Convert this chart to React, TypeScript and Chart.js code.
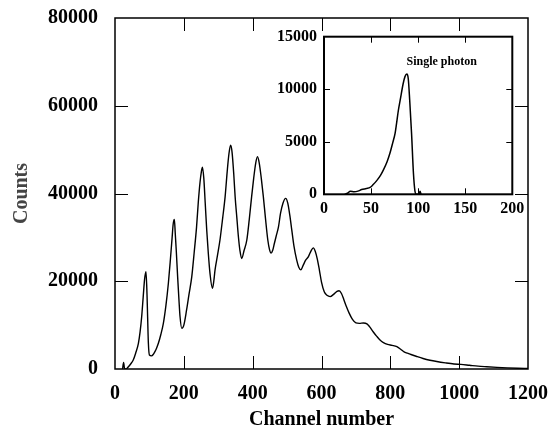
import React, { useEffect, useRef } from "react";
import { Chart, registerables } from "chart.js";

Chart.register(...registerables);

// Main spectrum (channel number, counts)
const mainChannels = [
  22, 25, 28, 32, 39, 46, 53, 60, 68, 73, 77.5, 82, 86, 90, 93, 97, 100, 106, 111,
  116, 121, 126, 133, 140.5, 148, 155, 161, 166, 169, 172.5, 175, 178, 182, 186, 189, 194,
  200, 208, 215, 223, 230, 237, 242, 247, 251, 254, 258, 262, 266.5, 271, 276, 283,
  287, 290.7, 298, 305, 313, 320, 326, 331, 336, 340, 345, 349, 354, 358.5, 363, 368,
  375, 383, 390, 397, 403, 409, 414, 419, 425, 431, 437, 444, 449, 453.5,
  458, 463, 469, 475, 481, 488, 496, 502, 508, 513.6, 520, 528, 534, 540,
  546, 554, 562, 570, 576, 582, 588, 594, 600, 608, 616, 625, 635, 645, 651, 658,
  665, 672, 680, 690, 700, 710, 722, 732, 740, 750, 760, 770, 780, 792, 805,
  819, 830, 840, 850, 860, 875, 895, 915, 935, 960, 985, 1005, 1030, 1055,
  1080, 1110, 1140, 1170, 1200,
];
const mainCounts = [
  0, 1500, 0, 0, 530, 1200, 2050, 3600, 5850, 8500, 11900, 16500, 20500, 22200, 17000, 5850, 3200, 3000, 3300,
  3950, 4800, 5850, 7800, 10400, 14500, 19500, 25000, 30000, 33000, 34100, 31000, 27000, 21000, 15500, 11900, 9270,
  10000, 13450, 17000, 21000, 26500, 32400, 38000, 42500, 45000, 46000, 43500, 38000, 31700, 26500, 21800, 18400,
  20000, 22600, 26000, 29400, 34500, 39300, 45000, 49000, 51000, 49500, 44500, 39300, 34500, 30200, 27000, 25200,
  27000, 29400, 34000, 39300, 43500, 47000, 48400, 47000, 43500, 39300, 34500, 29400, 27200, 26400,
  27000, 28600, 30500, 32400, 35500, 37800, 38900, 37800, 35000, 31700, 28000, 24800, 23200, 22600,
  23500, 24800, 25600, 27000, 27600, 26800, 25000, 22500, 19800, 17600, 16800, 16500, 17000, 17700, 17850, 17200,
  15800, 14300, 12800, 11300, 10500, 10400, 10500, 10300, 9600, 8500, 7500, 6600, 6000, 5600, 5400,
  5100, 4500, 3900, 3600, 3300, 2900, 2400, 2000, 1700, 1400, 1150, 1050, 850, 650,
  520, 380, 260, 160, 100,
];

// Inset: single photon spectrum
const insetChannels = [
  22, 25, 28, 32, 36, 40, 45, 49, 52, 56, 60, 63, 67, 70, 73, 75.5, 77, 79, 81, 84,
  86, 88, 89.5, 91, 93, 95, 96.6, 98, 101, 102, 103,
];
const insetCounts = [
  0, 100, 300, 250, 300, 450, 550, 650, 900, 1300, 1800, 2300, 3100, 3900, 4900, 5800, 6700, 8000, 9000, 10500,
  11200, 11450, 11000, 9000, 5800, 2000, 300, 0, 0, 300, 0,
];

const mainXTicks = { min: 0, max: 1200, step: 200 };
const mainYTicks = { min: 0, max: 80000, step: 20000 };
const insetXTicks = { min: 0, max: 200, step: 50 };
const insetYTicks = { min: 0, max: 15000, step: 5000 };

const FONT = "'Liberation Serif', 'Times New Roman', serif";

const plain = (v: any) => String(v);

function framePlugin(id: string, tickLen: number, lineWidth: number, whiteBg: boolean) {
  return {
    id,
    beforeDraw(chart: any) {
      if (!whiteBg) return;
      const { ctx, chartArea } = chart;
      ctx.save();
      ctx.fillStyle = "#fff";
      ctx.fillRect(chartArea.left, chartArea.top, chartArea.right - chartArea.left, chartArea.bottom - chartArea.top);
      ctx.restore();
    },
    afterDraw(chart: any) {
      const { ctx, chartArea } = chart;
      const { left, right, top, bottom } = chartArea;
      const xs = chart.scales.x;
      const ys = chart.scales.y;
      ctx.save();
      ctx.strokeStyle = "#000";
      ctx.lineWidth = lineWidth;
      ctx.strokeRect(left, top, right - left, bottom - top);
      ctx.beginPath();
      xs.ticks.forEach((t: any) => {
        if (t.value <= xs.min || t.value >= xs.max) return;
        const px = Math.round(xs.getPixelForValue(t.value)) + 0.5;
        ctx.moveTo(px, bottom);
        ctx.lineTo(px, bottom - tickLen);
        ctx.moveTo(px, top);
        ctx.lineTo(px, top + tickLen);
      });
      ys.ticks.forEach((t: any) => {
        if (t.value <= ys.min || t.value >= ys.max) return;
        const py = Math.round(ys.getPixelForValue(t.value)) + 0.5;
        ctx.moveTo(left, py);
        ctx.lineTo(left + tickLen, py);
        ctx.moveTo(right, py);
        ctx.lineTo(right - tickLen, py);
      });
      ctx.lineWidth = 1;
      ctx.stroke();
      ctx.restore();
    },
  };
}

const insetLabelPlugin = {
  id: "insetLabel",
  afterDraw(chart: any) {
    const { ctx } = chart;
    const px = chart.scales.x.getPixelForValue(125);
    const py = chart.scales.y.getPixelForValue(12600);
    ctx.save();
    ctx.font = `bold 12px ${FONT}`;
    ctx.fillStyle = "#000";
    ctx.textAlign = "center";
    ctx.textBaseline = "middle";
    ctx.fillText("Single photon", px, py);
    ctx.restore();
  },
};

function fitX(h: number) {
  return (scale: any) => {
    scale.height = h;
    scale.paddingLeft = 0;
    scale.paddingRight = 0;
  };
}
function fitY(w: number) {
  return (scale: any) => {
    scale.width = w;
    scale.paddingTop = 0;
    scale.paddingBottom = 0;
  };
}

export default function App() {
  const mainRef = useRef<HTMLCanvasElement>(null);
  const insetRef = useRef<HTMLCanvasElement>(null);

  useEffect(() => {
    const mainChart = new Chart(mainRef.current!, {
      type: "line",
      data: {
        datasets: [
          {
            data: mainChannels.map((c, i) => ({ x: c, y: mainCounts[i] })),
            borderColor: "#000",
            borderWidth: 1.4,
            pointRadius: 0,
            cubicInterpolationMode: "monotone",
            fill: false,
          },
        ],
      },
      options: {
        animation: false,
        responsive: false,
        events: [],
        layout: { padding: { left: 0, top: 18, right: 26, bottom: 0 } },
        plugins: { legend: { display: false }, tooltip: { enabled: false } },
        scales: {
          x: {
            type: "linear",
            min: mainXTicks.min,
            max: mainXTicks.max,
            ticks: {
              stepSize: mainXTicks.step,
              color: "#000",
              font: { family: FONT, size: 20, weight: "bold" },
              padding: 13,
              maxRotation: 0,
              callback: plain,
            },
            grid: { display: false, drawTicks: false },
            border: { display: false },
            title: {
              display: true,
              text: "Channel number",
              color: "#000",
              font: { family: FONT, size: 20, weight: "bold" },
              padding: { top: 0, bottom: 0 },
            },
            afterFit: fitX(63),
          },
          y: {
            type: "linear",
            min: mainYTicks.min,
            max: mainYTicks.max,
            ticks: {
              stepSize: mainYTicks.step,
              color: "#000",
              font: { family: FONT, size: 20, weight: "bold" },
              padding: 17,
              callback: plain,
            },
            grid: { display: false, drawTicks: false },
            border: { display: false },
            title: {
              display: true,
              text: "Counts",
              color: "#444",
              font: { family: FONT, size: 20, weight: "bold" },
              padding: { top: 10, bottom: 0 },
            },
            afterFit: fitY(115),
          },
        },
      },
      plugins: [framePlugin("mainFrame", 13, 1.5, false)],
    } as any);

    const insetChart = new Chart(insetRef.current!, {
      type: "line",
      data: {
        datasets: [
          {
            data: insetChannels.map((c, i) => ({ x: c, y: insetCounts[i] })),
            borderColor: "#000",
            borderWidth: 1.5,
            pointRadius: 0,
            cubicInterpolationMode: "monotone",
            fill: false,
          },
        ],
      },
      options: {
        animation: false,
        responsive: false,
        events: [],
        layout: { padding: { left: 0, top: 16.7, right: 27.7, bottom: 0 } },
        plugins: { legend: { display: false }, tooltip: { enabled: false } },
        scales: {
          x: {
            type: "linear",
            min: insetXTicks.min,
            max: insetXTicks.max,
            ticks: {
              stepSize: insetXTicks.step,
              color: "#000",
              font: { family: FONT, size: 16, weight: "bold" },
              padding: 5,
              maxRotation: 0,
              callback: plain,
            },
            grid: { display: false, drawTicks: false },
            border: { display: false },
            afterFit: fitX(25.7),
          },
          y: {
            type: "linear",
            min: insetYTicks.min,
            max: insetYTicks.max,
            ticks: {
              stepSize: insetYTicks.step,
              color: "#000",
              font: { family: FONT, size: 16, weight: "bold" },
              padding: 7,
              callback: plain,
            },
            grid: { display: false, drawTicks: false },
            border: { display: false },
            afterFit: fitY(54),
          },
        },
      },
      plugins: [framePlugin("insetFrame", 6, 2, true), insetLabelPlugin],
    } as any);

    return () => {
      mainChart.destroy();
      insetChart.destroy();
    };
  }, []);

  return (
    <div style={{ position: "fixed", left: 0, top: 0, width: 554, height: 432, background: "#fff" }}>
      <canvas ref={mainRef} width={554} height={432} style={{ position: "absolute", left: 0, top: 0, display: "block" }} />
      <canvas ref={insetRef} width={270} height={200} style={{ position: "absolute", left: 270, top: 20, display: "block" }} />
    </div>
  );
}
